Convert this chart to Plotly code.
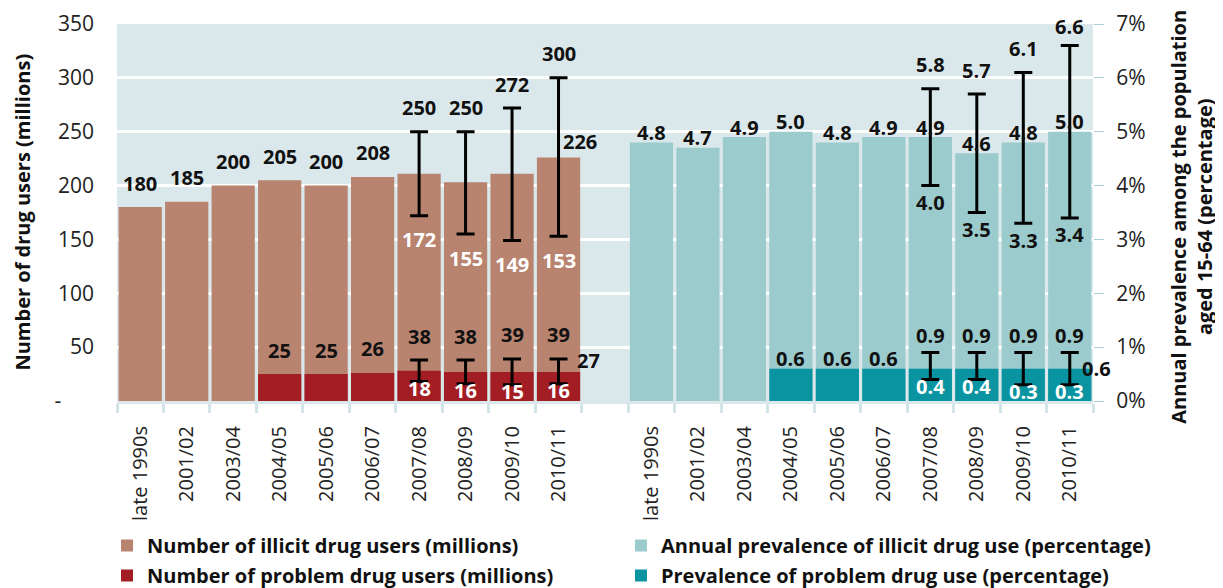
import plotly.graph_objects as go

# ---------------- data ----------------
periods = ["late 1990s", "2001/02", "2003/04", "2004/05", "2005/06", "2006/07",
           "2007/08", "2008/09", "2009/10", "2010/11"]

# number of users (millions)
users = [180, 185, 200, 205, 200, 208, 211, 203, 211, 226]
users_low = [None, None, None, None, None, None, 172, 155, 149, 153]
users_high = [None, None, None, None, None, None, 250, 250, 272, 300]
problem_users = [None, None, None, 25, 25, 26, 28, 27, 27, 27]
problem_low = [None, None, None, None, None, None, 18, 16, 15, 16]
problem_high = [None, None, None, None, None, None, 38, 38, 39, 39]

# prevalence (%)
prevalence = [4.8, 4.7, 4.9, 5.0, 4.8, 4.9, 4.9, 4.6, 4.8, 5.0]
prev_low = [None, None, None, None, None, None, 4.0, 3.5, 3.3, 3.4]
prev_high = [None, None, None, None, None, None, 5.8, 5.7, 6.1, 6.6]
problem_prev = [None, None, None, 0.6, 0.6, 0.6, 0.6, 0.6, 0.6, 0.6]
pprev_low = [None, None, None, None, None, None, 0.4, 0.4, 0.3, 0.3]
pprev_high = [None, None, None, None, None, None, 0.9, 0.9, 0.9, 0.9]

left_ticks = [0, 50, 100, 150, 200, 250, 300, 350]
right_ticks = [0, 1, 2, 3, 4, 5, 6, 7]

left_title = "Number of drug users (millions)"
right_title = "Annual prevalence among the population<br>aged 15-64 (percentage)"

# ---------------- style ----------------
FONT = "Open Sans"
BG = "#DAE8EB"
C_USERS = "#B8836F"
C_PROB = "#A31E24"
C_PREV = "#9BCBCC"
C_PPREV = "#0A93A1"
TXT = "#111111"
TICK = "#222222"

n = len(periods)
xl = list(range(n))                    # left group positions
xr = [i + n + 1 for i in range(n)]     # right group positions (one empty slot)
BW = 0.93

fig = go.Figure()

def sel(xs, vals):
    pts = [(x, v) for x, v in zip(xs, vals) if v is not None]
    return [p[0] for p in pts], [p[1] for p in pts]

# bars
x, y = sel(xl, users)
fig.add_bar(x=x, y=y, width=BW, marker_color=C_USERS, marker_line_width=0,
            name="Number of illicit drug users (millions)", legend="legend",
            legendgroup="a", legendrank=1, yaxis="y")
x, y = sel(xl, problem_users)
fig.add_bar(x=x, y=y, width=BW, marker_color=C_PROB, marker_line_width=0,
            name="Number of problem drug users (millions)", legend="legend",
            legendgroup="b", legendrank=2, yaxis="y")
x, y = sel(xr, prevalence)
fig.add_bar(x=x, y=y, width=BW, marker_color=C_PREV, marker_line_width=0,
            name="Annual prevalence of illicit drug use (percentage)", legend="legend2",
            legendgroup="c", legendrank=3, yaxis="y2")
x, y = sel(xr, problem_prev)
fig.add_bar(x=x, y=y, width=BW, marker_color=C_PPREV, marker_line_width=0,
            name="Prevalence of problem drug use (percentage)", legend="legend2",
            legendgroup="d", legendrank=4, yaxis="y2")

# error ranges
def add_range(xs, mid, lo, hi, axis):
    pts = [(x, m, l, h) for x, m, l, h in zip(xs, mid, lo, hi) if l is not None]
    fig.add_scatter(
        x=[p[0] for p in pts], y=[p[1] for p in pts], mode="markers",
        marker=dict(size=1, color="rgba(0,0,0,0)"), showlegend=False, hoverinfo="skip",
        error_y=dict(type="data", symmetric=False,
                     array=[p[3] - p[1] for p in pts],
                     arrayminus=[p[1] - p[2] for p in pts],
                     color="black", thickness=3, width=9),
        yaxis=axis)

add_range(xl, users, users_low, users_high, "y")
add_range(xl, problem_users, problem_low, problem_high, "y")
add_range(xr, prevalence, prev_low, prev_high, "y2")
add_range(xr, problem_prev, pprev_low, pprev_high, "y2")

# labels
ann = []
def lab(x, y, text, yref, dy, color=TXT, dx=0):
    ann.append(dict(x=x, y=y, xref="x", yref=yref, text=text, showarrow=False,
                    xanchor="center", yanchor="middle", yshift=dy, xshift=dx,
                    font=dict(family=FONT, size=20, color=color, weight=700)))

fmt_i = lambda v: f"{v:.0f}"
fmt_p = lambda v: f"{v:.1f}"

for i in range(n):
    # left group
    if users_low[i] is None:
        lab(xl[i], users[i], fmt_i(users[i]), "y", 24)
    else:
        lab(xl[i], users_high[i], fmt_i(users_high[i]), "y", 24)
        lab(xl[i], users_low[i], fmt_i(users_low[i]), "y", -24, color="white")
    if problem_users[i] is not None:
        if problem_low[i] is None:
            lab(xl[i], problem_users[i], fmt_i(problem_users[i]), "y", 24)
        else:
            lab(xl[i], problem_high[i], fmt_i(problem_high[i]), "y", 24)
            lab(xl[i], problem_low[i], fmt_i(problem_low[i]), "y", -7, color="white")
    # right group
    lab(xr[i], prevalence[i], fmt_p(prevalence[i]), "y2", 10)
    if prev_low[i] is not None:
        lab(xr[i], prev_high[i], fmt_p(prev_high[i]), "y2", 24 if prev_high[i] < 6.5 else 19)
        lab(xr[i], prev_low[i], fmt_p(prev_low[i]), "y2", -17)
    if problem_prev[i] is not None:
        if pprev_low[i] is None:
            lab(xr[i], problem_prev[i], fmt_p(problem_prev[i]), "y2", 10)
        else:
            lab(xr[i], pprev_high[i], fmt_p(pprev_high[i]), "y2", 17)
            lab(xr[i], pprev_low[i], fmt_p(pprev_low[i]), "y2", -7, color="white")

# latest best estimates shown beside the last bars
lab(xl[-1], users[-1], fmt_i(users[-1]), "y", 16, dx=21)
lab(xl[-1], problem_users[-1], fmt_i(problem_users[-1]), "y", 11, dx=30)
lab(xr[-1], problem_prev[-1], fmt_p(problem_prev[-1]), "y2", 0, dx=27)

# axis titles (placed as rotated text beside the axes)
title_font = dict(family=FONT, size=20, color=TXT, weight=700)
ann.append(dict(text=left_title, xref="paper", yref="paper", x=-0.0973, y=0.5,
                xanchor="center", yanchor="middle", textangle=-90, showarrow=False,
                font=title_font))
ann.append(dict(text=right_title, xref="paper", yref="paper", x=1.1009, y=0.49,
                xanchor="center", yanchor="middle", textangle=-90, showarrow=False,
                font=title_font))

bounds = [i - 0.5 for i in xl] + [xl[-1] + 0.5] + [i - 0.5 for i in xr] + [xr[-1] + 0.5]

legend_font = dict(family=FONT, size=20, color=TXT, weight=700)

# the page adds an 8px body margin, so the figure is 8px smaller than the window
fig.update_layout(
    width=1215, height=580,
    margin=dict(l=109, r=130, t=16, b=187, autoexpand=False),
    paper_bgcolor="white", plot_bgcolor=BG,
    barmode="overlay",
    font=dict(family=FONT, color=TICK),
    annotations=ann,
    xaxis=dict(range=[-0.5, xr[-1] + 0.5], tickmode="array", automargin=False,
               tickvals=xl + xr, ticktext=periods + periods,
               tickangle=-90, tickfont=dict(size=20, color=TICK),
               ticks="", ticklabelstandoff=14, showgrid=False, zeroline=False,
               showline=True, linecolor=BG, linewidth=3, layer="below traces",
               minor=dict(tickmode="array", tickvals=bounds, ticks="outside",
                          ticklen=9, tickwidth=2.5, tickcolor="#D3E4E8", showgrid=False)),
    yaxis=dict(range=[0, 350], tickmode="array", tickvals=left_ticks, automargin=False,
               ticktext=["-\u00a0\u00a0\u00a0\u00a0\u00a0\u00a0"] + [str(v) for v in left_ticks[1:]],
               tickfont=dict(size=21, color=TICK), ticks="",
               ticklabelstandoff=22, showgrid=True, gridcolor="white", gridwidth=2.5,
               zeroline=False),
    yaxis2=dict(range=[0, 7], overlaying="y", side="right", tickmode="array", automargin=False,
                tickvals=right_ticks, ticktext=[f"{v}%" for v in right_ticks],
                tickfont=dict(size=21, color=TICK), ticks="outside", ticklen=10,
                tickwidth=1, tickcolor="#A9D1D5", ticklabelstandoff=8,
                showgrid=False, zeroline=False),
    legend=dict(xref="container", yref="container", x=0.0815, y=0.1069,
                xanchor="left", yanchor="top", orientation="v",
                tracegroupgap=1, bgcolor="rgba(0,0,0,0)", font=legend_font),
    legend2=dict(xref="container", yref="container", x=0.5045, y=0.1069,
                 xanchor="left", yanchor="top", orientation="v",
                 tracegroupgap=1, bgcolor="rgba(0,0,0,0)", font=legend_font),
)

fig.write_html("out.html")
